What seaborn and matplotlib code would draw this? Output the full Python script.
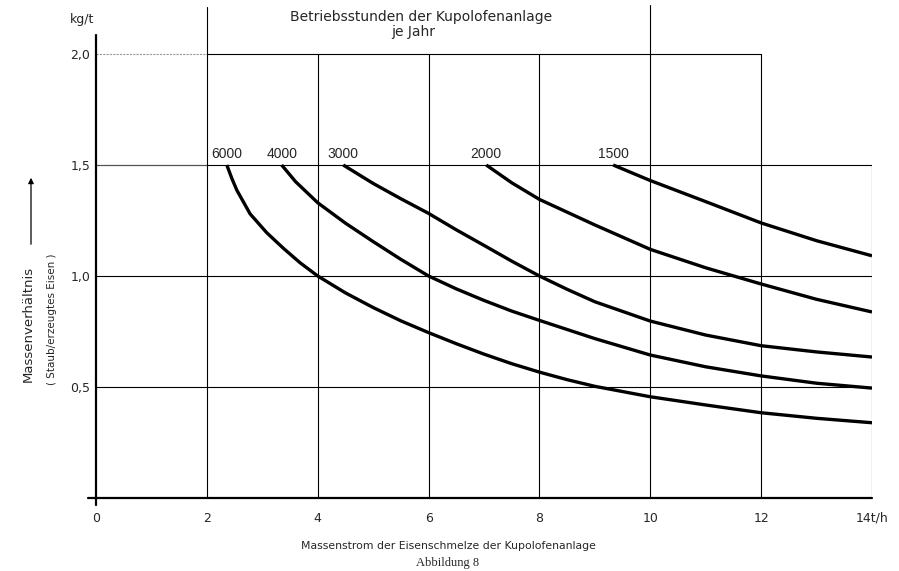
import numpy as np
import pandas as pd
import matplotlib
matplotlib.use("Agg")
import matplotlib.pyplot as plt
import seaborn as sns

# Betriebsstunden je Jahr (curve labels)
hours = ["6000", "4000", "3000", "2000", "1500"]

# Massenstrom t/h  /  Massenverhältnis kg/t
x_6000 = [2.36, 2.45, 2.54, 2.78, 3.08, 3.38, 3.68, 4.0, 4.5, 5.0, 5.5, 6.0, 6.5, 7.0,
          7.5, 8.0, 8.5, 9.0, 10.0, 11.0, 12.0, 13.0, 14.0]
y_6000 = [1.50, 1.44, 1.387, 1.28, 1.195, 1.125, 1.06, 1.0, 0.924, 0.858, 0.798, 0.745, 0.695, 0.648,
          0.605, 0.567, 0.533, 0.503, 0.456, 0.419, 0.384, 0.359, 0.339]
x_4000 = [3.35, 3.6, 4.0, 4.5, 5.0, 5.5, 6.0, 6.5, 7.0, 7.5, 8.0, 9.0, 10.0, 11.0, 12.0, 13.0, 14.0]
y_4000 = [1.50, 1.425, 1.33, 1.238, 1.155, 1.075, 1.0, 0.942, 0.89, 0.842, 0.80, 0.718, 0.644, 0.591,
          0.55, 0.517, 0.495]
x_3000 = [4.46, 5.0, 5.5, 6.0, 6.5, 7.0, 7.5, 8.0, 8.5, 9.0, 10.0, 11.0, 12.0, 13.0, 14.0]
y_3000 = [1.50, 1.417, 1.348, 1.282, 1.208, 1.138, 1.067, 1.0, 0.94, 0.884, 0.797, 0.734, 0.686,
          0.658, 0.635]
x_2000 = [7.04, 7.5, 8.0, 9.0, 10.0, 11.0, 12.0, 13.0, 14.0]
y_2000 = [1.50, 1.42, 1.345, 1.23, 1.12, 1.037, 0.964, 0.895, 0.838]
x_1500 = [9.33, 10.0, 11.0, 12.0, 13.0, 14.0]
y_1500 = [1.50, 1.43, 1.335, 1.239, 1.159, 1.091]

x_ticks = [0, 2, 4, 6, 8, 10, 12, 14]
x_ticklabels = ["0", "2", "4", "6", "8", "10", "12", "14t/h"]
y_ticks = [0.5, 1.0, 1.5, 2.0]
y_ticklabels = ["0,5", "1,0", "1,5", "2,0"]

curves = [(x_6000, y_6000), (x_4000, y_4000), (x_3000, y_3000),
          (x_2000, y_2000), (x_1500, y_1500)]
df = pd.concat([pd.DataFrame({"x": cx, "y": cy, "h": h})
                for h, (cx, cy) in zip(hours, curves)], ignore_index=True)

sns.set_style("white")
plt.rcParams["font.family"] = ["DejaVu Sans"]

fig = plt.figure(figsize=(8.99, 5.71), dpi=100)
ax = fig.add_axes([96 / 899, 73 / 571, 776 / 899, 498 / 571])
ax.set_xlim(0, 14)
ax.set_ylim(0, 498 / 222)
for s in ax.spines.values():
    s.set_visible(False)

# raster
grid_kw = dict(color="black", lw=0.8, zorder=1)
ax.plot([0, 2], [2.0, 2.0], color="#999999", lw=0.8, ls=(0, (2, 1)), zorder=1)
ax.plot([2, 12], [2.0, 2.0], **grid_kw)
ax.plot([0, 2], [1.5, 1.5], color="#555555", lw=0.9, zorder=1)
ax.plot([2, 14], [1.5, 1.5], **grid_kw)
for yv in [1.0, 0.5]:
    ax.plot([0, 14], [yv, yv], **grid_kw)
for xv in [4, 6, 8, 12]:
    ax.plot([xv, xv], [0, 2.0], **grid_kw)
ax.plot([2, 2], [0, 2.21], **grid_kw)
ax.plot([10, 10], [0, 2.22], **grid_kw)
ax.plot([14, 14], [0, 1.5], **grid_kw)
# axes
ax.plot([0, 0], [-0.03, 2.085], color="black", lw=1.6, zorder=2, clip_on=False)
ax.plot([-0.15, 14], [0, 0], color="black", lw=1.6, zorder=2, clip_on=False)

sns.lineplot(data=df, x="x", y="y", hue="h", palette=["black"] * 5,
             legend=False, estimator=None, sort=False, lw=2.4, ax=ax, zorder=3,
             solid_joinstyle="round", solid_capstyle="butt")

for h, (cx, cy) in zip(hours, curves):
    ax.text(cx[0], cy[0] + 0.02, h, ha="center", va="bottom", fontsize=10,
            family="Liberation Sans")

ax.set_xticks(x_ticks)
ax.set_xticklabels(x_ticklabels, fontsize=9)
ax.set_yticks(y_ticks)
ax.set_yticklabels(y_ticklabels, fontsize=9)
ax.tick_params(axis="x", length=0, pad=10)
ax.tick_params(axis="y", length=0, pad=4)
ax.set_xlabel("")
ax.set_ylabel("")

fig.text(82 / 899, 1 - 20 / 571, "kg/t", ha="center", va="center", fontsize=9)
fig.text(421 / 899, 1 - 17 / 571, "Betriebsstunden der Kupolofenanlage",
         ha="center", va="center", fontsize=10)
fig.text(413 / 899, 1 - 32 / 571, "je Jahr", ha="center", va="center", fontsize=10)
fig.text(448 / 899, 1 - 546 / 571, "Massenstrom der Eisenschmelze der Kupolofenanlage",
         ha="center", va="center", fontsize=7.8)
fig.text(448 / 899, 1 - 563 / 571, "Abbildung 8", ha="center", va="center",
         fontsize=9, family="Liberation Serif")
fig.text(28 / 899, 1 - 324 / 571, "Massenverhältnis", rotation=90,
         ha="center", va="center", fontsize=9.5)
fig.text(52 / 899, 1 - 319 / 571, "( Staub/erzeugtes Eisen )", rotation=90,
         ha="center", va="center", fontsize=7.5)
ax.annotate("", xy=(31, 571 - 175), xytext=(31, 571 - 247),
            xycoords="figure pixels", textcoords="figure pixels",
            arrowprops=dict(arrowstyle="-|>", color="black", lw=0.9,
                            mutation_scale=8))

fig.savefig("out.png", dpi=100)
